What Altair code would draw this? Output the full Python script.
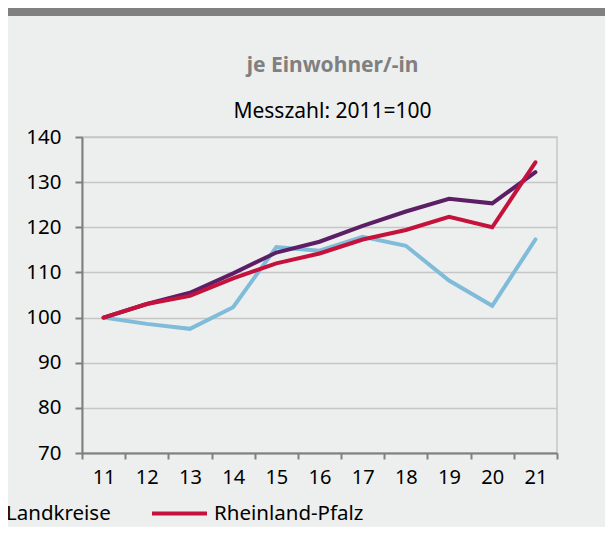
import altair as alt
import pandas as pd

years = ["11", "12", "13", "14", "15", "16", "17", "18", "19", "20", "21"]
series_names = ["Kreisfreie Städte", "Landkreise", "Rheinland-Pfalz"]
kreisfreie = [100, 98.6, 97.5, 102.3, 115.6, 114.8, 117.9, 115.9, 108.2, 102.6, 117.3]
landkreise = [100, 103.0, 105.5, 109.8, 114.4, 116.8, 120.3, 123.5, 126.3, 125.3, 132.2]
rheinland_pfalz = [100, 103.0, 104.8, 108.7, 112.0, 114.2, 117.3, 119.4, 122.3, 120.0, 134.4]
y_ticks = [70, 80, 90, 100, 110, 120, 130, 140]
colors = ["#80BCD9", "#5C1F66", "#C4123D"]

FONT = "Noto Sans"

rows = []
for name, vals in zip(series_names, [kreisfreie, landkreise, rheinland_pfalz]):
    for yr, v in zip(years, vals):
        rows.append({"Jahr": yr, "Wert": v, "Gebiet": name})
df = pd.DataFrame(rows)

lines = alt.Chart(df).mark_line(strokeWidth=4, strokeCap="round").encode(
    x=alt.X(
        "Jahr:O",
        bandPosition=0.5,
        sort=years,
        scale=alt.Scale(type="band", paddingInner=0, paddingOuter=0),
        axis=alt.Axis(
            title=None, labelAngle=0, tickBand="extent", grid=False,
            labelFontSize=20, labelFont=FONT, labelColor="black", labelPadding=8,
            domainColor="#7F7F7F", domainWidth=2, tickColor="#7F7F7F", tickWidth=2, tickSize=6,
        ),
    ),
    y=alt.Y(
        "Wert:Q",
        scale=alt.Scale(domain=[70, 140], nice=False, zero=False),
        axis=alt.Axis(
            title=None, values=y_ticks, grid=True, gridColor="#C6C6C6", gridWidth=1.5,
            labelFontSize=20.5, labelFont=FONT, labelColor="black", labelPadding=14,
            domainColor="#7F7F7F", domainWidth=2, tickColor="#7F7F7F", tickWidth=2, tickSize=7,
        ),
    ),
    color=alt.Color(
        "Gebiet:N",
        sort=series_names,
        scale=alt.Scale(domain=series_names, range=colors),
        legend=alt.Legend(
            title=None, orient="none", legendX=-401, legendY=347, direction="horizontal",
            symbolType="stroke", symbolStrokeWidth=4, symbolSize=3025,
            labelFontSize=20.5, labelFont=FONT, labelColor="black", labelOffset=5,
            columnPadding=33,
        ),
    ),
)

band = alt.Chart(pd.DataFrame({"a": [0]})).mark_rect(color="#808080").encode(
    x=alt.value(-74), x2=alt.value(540), y=alt.value(-129), y2=alt.value(-121)
)

chart = alt.layer(band, lines).properties(
    width=475,
    height=316,
    background="#EDEFEE",
    padding={"left": 74, "top": 129, "right": 48, "bottom": 74},
    autosize=alt.AutoSizeParams(type="none"),
    title=alt.TitleParams(
        text="je Einwohner/-in",
        subtitle="Messzahl: 2011=100",
        anchor="middle",
        frame="group",
        font=FONT,
        fontSize=21,
        fontWeight="bold",
        color="#808080",
        subtitleFont=FONT,
        subtitleFontSize=21,
        subtitleColor="black",
        subtitlePadding=25,
        offset=-114,
        dx=13,
    ),
).configure_view(stroke="#C6C6C6", strokeWidth=1.5)

chart.save("out.html", embed_options={"renderer": "svg", "actions": False})
